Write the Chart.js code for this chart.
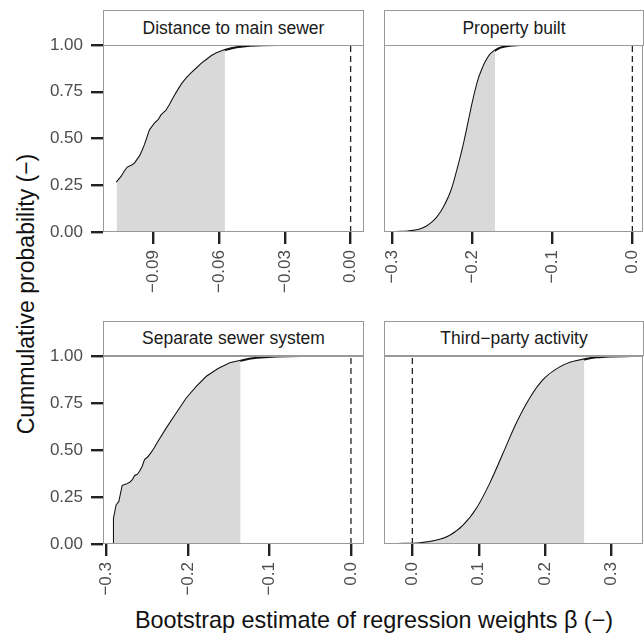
<!DOCTYPE html>
<html lang="en">
<head>
  <meta charset="UTF-8">
  <title>Bootstrap CDF of regression weights</title>
  <script src="https://cdn.jsdelivr.net/npm/chart.js"></script>
  <style>
    html, body { margin: 0; padding: 0; background: #fff; overflow: hidden; }
    body { width: 644px; height: 638px; position: relative; font-family: "Liberation Sans", Arial, sans-serif; }
    canvas { position: absolute; }
    .strip {
      position: absolute; box-sizing: border-box; background: #fff;
      border: 1px solid #999; color: #1a1a1a; font-size: 17.5px;
      text-align: center; display: flex; align-items: center; justify-content: center;
    }
    .ytitle {
      position: absolute; left: 26px; top: 294px; font-size: 23px; color: #111;
      transform: translate(-50%, -50%) rotate(-90deg); white-space: nowrap;
    }
    .xtitle {
      position: absolute; left: 374px; top: 620px; font-size: 23.4px; color: #111;
      transform: translate(-50%, -50%); white-space: nowrap;
    }
  </style>
</head>
<body>
  <div class="ytitle">Cummulative probability (−)</div>
  <div class="xtitle">Bootstrap estimate of regression weights β (−)</div>

  <script>
    // panel titles
    const panelTitles = ['Distance to main sewer', 'Property built', 'Separate sewer system', 'Third\u2212party activity'];

    // bootstrap CDF
    const distX = [-0.1067, -0.1044, -0.1030, -0.1017, -0.0995, -0.0983, -0.0960, -0.0950, -0.0938, -0.0915, -0.0892, -0.0875, -0.0862, -0.0840, -0.0824, -0.0805, -0.0786, -0.0768, -0.0748, -0.0725, -0.0702, -0.0680, -0.0657, -0.0635, -0.0611, -0.0573, -0.0545, -0.0520, -0.0459, -0.0400, -0.0337];
    const distP = [0.265, 0.297, 0.325, 0.345, 0.357, 0.368, 0.407, 0.432, 0.466, 0.546, 0.582, 0.600, 0.626, 0.650, 0.680, 0.722, 0.760, 0.793, 0.822, 0.850, 0.875, 0.900, 0.920, 0.940, 0.956, 0.973, 0.982, 0.988, 0.996, 0.999, 1.000];

    const builtX = [-0.2946, -0.2800, -0.2696, -0.2630, -0.2570, -0.2500, -0.2446, -0.2390, -0.2340, -0.2258, -0.2175, -0.2113, -0.2050, -0.1988, -0.1925, -0.1880, -0.1842, -0.1780, -0.1717, -0.1680, -0.1633, -0.1529, -0.1404];
    const builtP = [0.000, 0.003, 0.009, 0.018, 0.030, 0.052, 0.075, 0.108, 0.146, 0.226, 0.351, 0.457, 0.582, 0.706, 0.813, 0.865, 0.902, 0.947, 0.970, 0.980, 0.988, 0.996, 1.000];

    const sepX = [-0.2910, -0.2910, -0.2878, -0.2845, -0.2804, -0.2760, -0.2714, -0.2680, -0.2652, -0.2620, -0.2591, -0.2560, -0.2530, -0.2490, -0.2448, -0.2410, -0.2366, -0.2264, -0.2141, -0.2018, -0.1895, -0.1772, -0.1629, -0.1486, -0.1355, -0.1250, -0.1158, -0.0913, -0.0626];
    const sepP = [0.000, 0.137, 0.207, 0.225, 0.310, 0.316, 0.326, 0.340, 0.362, 0.368, 0.385, 0.410, 0.447, 0.462, 0.486, 0.510, 0.544, 0.615, 0.695, 0.775, 0.837, 0.890, 0.931, 0.961, 0.975, 0.985, 0.991, 0.998, 1.000];

    const thirdX = [-0.0236, 0.0115, 0.0366, 0.0567, 0.0768, 0.0968, 0.1169, 0.1370, 0.1570, 0.1771, 0.1972, 0.2173, 0.2373, 0.2589, 0.2775, 0.2975, 0.3300];
    const thirdP = [0.000, 0.004, 0.018, 0.044, 0.098, 0.187, 0.320, 0.480, 0.641, 0.774, 0.872, 0.929, 0.964, 0.982, 0.993, 0.998, 1.000];

    // shaded part of each CDF ends here
    const shadeEnd = [-0.0573, -0.1717, -0.1355, 0.2589];
    // dashed reference line
    const refLine = 0;

    // axes
    const xTicks1 = [-0.09, -0.06, -0.03, 0.00];
    const xTicks2 = [-0.3, -0.2, -0.1, 0.0];
    const xTicks3 = [-0.3, -0.2, -0.1, 0.0];
    const xTicks4 = [0.0, 0.1, 0.2, 0.3];
    const xRanges = [[-0.1129, 0.0061], [-0.3104, 0.0133], [-0.3045, 0.0160], [-0.0427, 0.3472]];
    const yTicks = [0, 0.25, 0.5, 0.75, 1];

    const panels = [
      { xs: distX, ps: distP, ticks: xTicks1, dec: 2, smooth: false, left: 30, top: 35, h: 272, showY: true },
      { xs: builtX, ps: builtP, ticks: xTicks2, dec: 1, smooth: true, left: 374, top: 35, h: 272, showY: false },
      { xs: sepX, ps: sepP, ticks: xTicks3, dec: 1, smooth: false, left: 30, top: 346, h: 273, showY: true },
      { xs: thirdX, ps: thirdP, ticks: xTicks4, dec: 1, smooth: true, left: 374, top: 346, h: 273, showY: false }
    ];

    const fontFam = '"Liberation Sans", Arial, sans-serif';
    const fmt = (v, d) => (v < -1e-9 ? '\u2212' : '') + Math.abs(v).toFixed(d);

    // grey box around the plotting area
    const panelBorder = {
      id: 'panelBorder',
      afterDraw(chart) {
        const a = chart.chartArea, c = chart.ctx;
        c.save();
        c.strokeStyle = '#999';
        c.lineWidth = 1;
        c.strokeRect(Math.round(a.left) + 0.5, Math.round(a.top) + 0.5, Math.round(a.right - a.left) - 1, Math.round(a.bottom - a.top) - 1);
        c.restore();
      }
    };

    panels.forEach((p, i) => {
      const w = p.showY ? 344 : 280;
      const cv = document.createElement('canvas');
      cv.width = w; cv.height = p.h;
      cv.style.left = p.left + 'px';
      cv.style.top = p.top + 'px';
      cv.style.width = w + 'px';
      cv.style.height = p.h + 'px';
      document.body.appendChild(cv);

      // strip with the panel title
      const strip = document.createElement('div');
      strip.className = 'strip';
      strip.textContent = panelTitles[i];
      const stripLeft = p.showY ? 103 : 384;
      const stripRight = p.showY ? 364 : 644;
      strip.style.left = stripLeft + 'px';
      strip.style.width = (stripRight - stripLeft) + 'px';
      strip.style.top = (p.top - 25) + 'px';
      strip.style.height = (i < 2 ? 36 : 35) + 'px';
      document.body.appendChild(strip);

      const curve = p.xs.map((x, k) => ({ x: x, y: p.ps[k] }));
      const shade = curve.filter(pt => pt.x <= shadeEnd[i] + 1e-9);

      new Chart(cv.getContext('2d'), {
        type: 'line',
        data: {
          datasets: [
            {
              data: shade, fill: 'origin', backgroundColor: '#d9d9d9',
              borderWidth: 0, pointRadius: 0, tension: 0,
              cubicInterpolationMode: p.smooth ? 'monotone' : 'default'
            },
            {
              data: curve, fill: false, borderColor: '#111', borderWidth: 2.1,
              pointRadius: 0, tension: 0,
              cubicInterpolationMode: p.smooth ? 'monotone' : 'default'
            },
            {
              data: [{ x: refLine, y: 0 }, { x: refLine, y: 1 }], fill: false,
              borderColor: '#222', borderWidth: 1.3, borderDash: [6, 4], pointRadius: 0
            }
          ]
        },
        options: {
          responsive: false,
          animation: false,
          events: [],
          layout: { padding: { left: p.showY ? 0 : 10, top: 10, right: p.showY ? 10 : 11, bottom: 0 } },
          plugins: { legend: { display: false }, tooltip: { enabled: false } },
          scales: {
            x: {
              type: 'linear',
              min: xRanges[i][0], max: xRanges[i][1],
              afterBuildTicks: s => { s.ticks = p.ticks.map(v => ({ value: v })); },
              afterFit: s => { s.height = 75; s.paddingLeft = 0; s.paddingRight = 0; },
              border: { display: false },
              grid: { drawOnChartArea: false, drawTicks: true, tickLength: 12, tickWidth: 2.4, tickColor: '#222', lineWidth: 2.4 },
              ticks: {
                minRotation: 90, maxRotation: 90, padding: 6, color: '#4d4d4d',
                font: { family: fontFam, size: 17 },
                callback: v => fmt(v, p.dec)
              }
            },
            y: {
              display: p.showY,
              min: 0, max: 1,
              afterBuildTicks: s => { s.ticks = yTicks.map(v => ({ value: v })); },
              afterFit: s => { s.width = p.showY ? 73 : 0; s.paddingTop = 0; s.paddingBottom = 0; },
              border: { display: false },
              grid: { drawOnChartArea: false, drawTicks: true, tickLength: 12, tickWidth: 2.4, tickColor: '#222', lineWidth: 2.4 },
              ticks: {
                padding: 8, color: '#4d4d4d',
                font: { family: fontFam, size: 17 },
                callback: v => v.toFixed(2)
              }
            }
          }
        },
        plugins: [panelBorder]
      });
    });
  </script>
</body>
</html>
